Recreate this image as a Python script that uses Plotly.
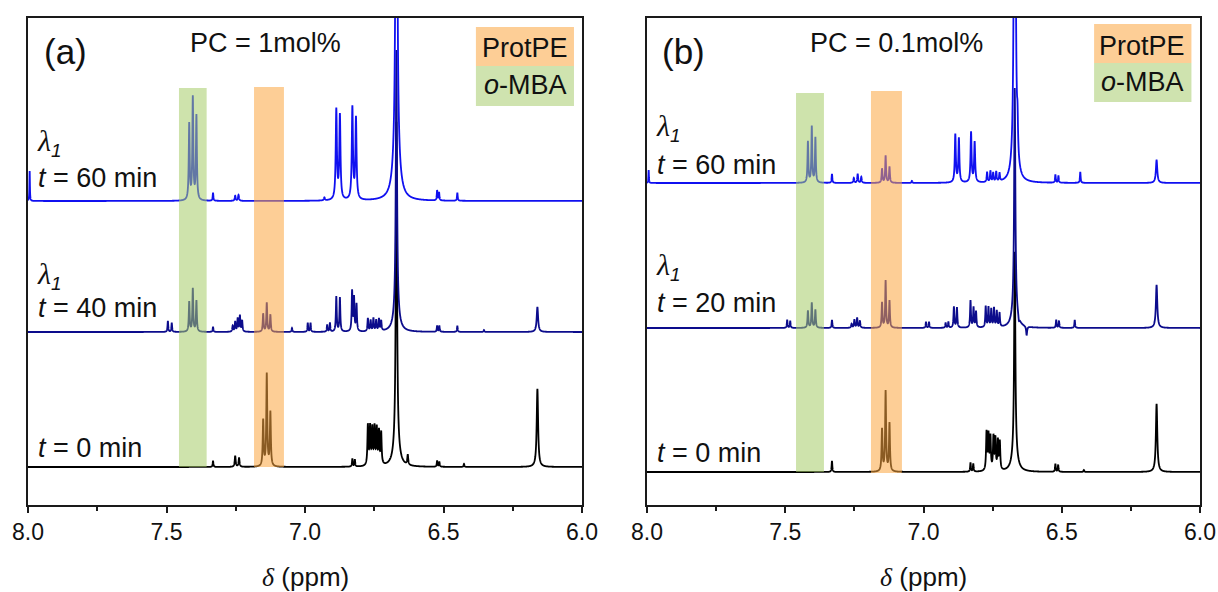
import numpy as np
import plotly.graph_objects as go

# ---------------------------------------------------------------
# 1H NMR peak lists (chemical shift in ppm, intensity, half width)
# ---------------------------------------------------------------
# Panel (a): PC = 1 mol%
A0_PPM = [7.332, 7.252, 7.238, 7.151, 7.138, 7.125, 6.829, 6.820,
          6.773, 6.765, 6.757, 6.749, 6.741, 6.733, 6.725,
          6.670, 6.670, 6.629, 6.523, 6.515, 6.426, 6.161]
A0_INT = [6, 11, 9, 46, 92, 54, 8, 7,
          40, 38, 36, 37, 36, 33, 32,
          320, 25, 10, 6, 5, 3, 78]
A0_HW = [0.0015, 0.002, 0.002, 0.002, 0.002, 0.002, 0.0015, 0.0015,
         0.002, 0.002, 0.002, 0.002, 0.002, 0.002, 0.002,
         0.0025, 0.010, 0.002, 0.0015, 0.0015, 0.0015, 0.003]

A40_PPM = [7.495, 7.481, 7.418, 7.405, 7.392, 7.332,
           7.261, 7.252, 7.243, 7.235, 7.227,
           7.151, 7.138, 7.125, 7.047, 6.990, 6.980, 6.920, 6.910,
           6.887, 6.874, 6.830, 6.823, 6.814,
           6.773, 6.763, 6.753, 6.743, 6.733, 6.725,
           6.670, 6.670, 6.523, 6.515, 6.450, 6.354, 6.161]
A40_INT = [11, 9, 30, 43, 31, 5,
           6, 10, 13, 16, 11,
           18, 29, 17, 4, 9, 9, 7, 9,
           35, 34, 40, 33, 27,
           13, 11, 13, 11, 12, 10,
           260, 22, 6, 6, 6, 2, 25]
A40_HW = [0.0015, 0.0015, 0.0018, 0.0018, 0.0018, 0.0015,
          0.0018, 0.0018, 0.0018, 0.0018, 0.0018,
          0.0018, 0.0018, 0.0018, 0.0015, 0.0015, 0.0015, 0.0015, 0.0015,
          0.0018, 0.0018, 0.0018, 0.0018, 0.0018,
          0.0018, 0.0018, 0.0018, 0.0018, 0.0018, 0.0018,
          0.0025, 0.010, 0.0015, 0.0015, 0.0015, 0.0015, 0.003]

A60_PPM = [7.994, 7.418, 7.405, 7.392, 7.332, 7.252, 7.240, 6.930,
           6.887, 6.874, 6.829, 6.816, 6.670, 6.670, 6.523, 6.516, 6.450]
A60_INT = [30, 76, 102, 84, 8, 5, 6, 3,
           90, 84, 92, 81, 700, 50, 10, 8, 8]
A60_HW = [0.001, 0.002, 0.002, 0.002, 0.0015, 0.002, 0.002, 0.002,
          0.0025, 0.0025, 0.0025, 0.0025, 0.0025, 0.012, 0.0015, 0.0015, 0.0015]

# Panel (b): PC = 0.1 mol%
B0_PPM = [7.331, 7.150, 7.137, 7.123, 6.830, 6.820,
          6.772, 6.765, 6.758, 6.747, 6.740, 6.731, 6.724,
          6.670, 6.670, 6.523, 6.513, 6.420, 6.157]
B0_INT = [11, 42, 80, 48, 9, 8,
          38, 35, 33, 33, 31, 29, 28,
          200, 20, 8, 7, 2, 68]
B0_HW = [0.0015, 0.002, 0.002, 0.002, 0.0015, 0.0015,
         0.002, 0.002, 0.002, 0.002, 0.002, 0.002, 0.002,
         0.0025, 0.010, 0.0015, 0.0015, 0.0015, 0.003]

B20_PPM = [7.493, 7.482, 7.418, 7.404, 7.391, 7.331,
           7.260, 7.250, 7.240, 7.230,
           7.150, 7.137, 7.123, 6.991, 6.980, 6.920, 6.910,
           6.890, 6.879, 6.830, 6.819, 6.810,
           6.775, 6.765, 6.755, 6.745, 6.735, 6.725,
           6.670, 6.670, 6.655, 6.627, 6.520, 6.510, 6.453, 6.157]
B20_INT = [8, 7, 17, 25, 18, 8,
           4, 8, 10, 7,
           25, 47, 27, 6, 6, 5, 6,
           21, 20, 27, 20, 16,
           21, 20, 18, 19, 16, 14,
           220, 20, -5, -9, 8, 7, 8, 43]
B20_HW = [0.0015, 0.0015, 0.0018, 0.0018, 0.0018, 0.0015,
          0.0018, 0.0018, 0.0018, 0.0018,
          0.0018, 0.0018, 0.0018, 0.0015, 0.0015, 0.0015, 0.0015,
          0.0018, 0.0018, 0.0018, 0.0018, 0.0018,
          0.0018, 0.0018, 0.0018, 0.0018, 0.0018, 0.0018,
          0.0025, 0.010, 0.002, 0.002, 0.0015, 0.0015, 0.0015, 0.003]

B60_PPM = [7.994, 7.418, 7.404, 7.391, 7.331, 7.252, 7.238, 7.225,
           7.150, 7.137, 7.123, 7.042, 6.885, 6.872, 6.828, 6.815,
           6.770, 6.758, 6.748, 6.737, 6.725,
           6.670, 6.670, 6.660, 6.523, 6.512, 6.433, 6.157]
B60_INT = [13, 41, 56, 45, 9, 5, 9, 6,
           14, 27, 16, 2, 48, 44, 50, 40,
           10, 11, 9, 10, 8,
           700, 20, 30, 8, 7, 11, 23]
B60_HW = [0.001, 0.0018, 0.0018, 0.0018, 0.0015, 0.0018, 0.0018, 0.0018,
          0.0018, 0.0018, 0.0018, 0.0015, 0.0022, 0.0022, 0.0022, 0.0022,
          0.0018, 0.0018, 0.0018, 0.0018, 0.0018,
          0.0025, 0.010, 0.002, 0.0015, 0.0015, 0.0015, 0.003]

# vertical stacking offsets of each spectrum (same units as intensity)
A_OFFSETS = {"t0": 38, "t40": 173, "t60": 304}
B_OFFSETS = {"t0": 33, "t20": 177, "t60": 322}

# highlighted chemical shift windows (ppm)
A_MBA_BAND = (7.455, 7.355)
A_PROTPE_BAND = (7.184, 7.076)
B_MBA_BAND = (7.461, 7.360)
B_PROTPE_BAND = (7.190, 7.078)

# ---------------------------------------------------------------
PPM_AXIS = np.linspace(8.0, 6.0, 8001)


def lorentz_sum(pos, inten, hw, offset):
    y = np.full_like(PPM_AXIS, float(offset))
    for p, a, g in zip(pos, inten, hw):
        y += a * g * g / ((PPM_AXIS - p) ** 2 + g * g)
    return y


BLACK = "#000000"
NAVY = "#0c0c8c"
BLUE = "#1010f0"
LW = 1.8

SANS = "Liberation Sans, Arial, sans-serif"
SERIF = "Liberation Serif, Times New Roman, serif"

fig = go.Figure()

panel_a = [(A0_PPM, A0_INT, A0_HW, A_OFFSETS["t0"], BLACK),
           (A40_PPM, A40_INT, A40_HW, A_OFFSETS["t40"], NAVY),
           (A60_PPM, A60_INT, A60_HW, A_OFFSETS["t60"], BLUE)]
panel_b = [(B0_PPM, B0_INT, B0_HW, B_OFFSETS["t0"], BLACK),
           (B20_PPM, B20_INT, B20_HW, B_OFFSETS["t20"], NAVY),
           (B60_PPM, B60_INT, B60_HW, B_OFFSETS["t60"], BLUE)]

for spectra, xa, ya in [(panel_a, "x", "y"), (panel_b, "x2", "y2")]:
    for pos, inten, hw, off, col in spectra:
        fig.add_trace(go.Scatter(
            x=PPM_AXIS, y=lorentz_sum(pos, inten, hw, off),
            mode="lines", line=dict(color=col, width=LW, simplify=False),
            xaxis=xa, yaxis=ya, showlegend=False, hoverinfo="skip"))

W, H = 1218, 592
Y_TOP = 487  # plot height in y units

axis_common = dict(showline=True, mirror=True, linecolor="#1a1a1a", linewidth=1.7,
                   showgrid=False, zeroline=False, automargin=False)
xaxis_style = dict(axis_common, range=[8.0, 6.0], ticks="outside", ticklen=6,
                   tickwidth=1.5, tickcolor="#1a1a1a", dtick=0.5, tick0=6.0,
                   tickformat=".1f", tickfont=dict(family=SANS, size=23, color="#111"),
                   minor=dict(ticks="outside", ticklen=4, tickwidth=1.5,
                              tickcolor="#1a1a1a", dtick=0.25, tick0=6.0))
yaxis_style = dict(axis_common, range=[0, Y_TOP], ticks="", showticklabels=False)

fig.update_layout(
    template="none",
    width=W, height=H, margin=dict(l=0, r=0, t=0, b=0, pad=0), autosize=False,
    paper_bgcolor="white", plot_bgcolor="white",
    xaxis=dict(xaxis_style, domain=[28 / W, 582 / W], anchor="y"),
    yaxis=dict(yaxis_style, domain=[87 / H, 574 / H], anchor="x"),
    xaxis2=dict(xaxis_style, domain=[647 / W, 1200 / W], anchor="y2"),
    yaxis2=dict(yaxis_style, domain=[87 / H, 574 / H], anchor="x2"),
)

# highlight bands (translucent, drawn over the traces)
shapes = []
bands = {
    ("x", "y"): [(A_MBA_BAND, 38, 417, "rgb(166,204,104)"),
                 (A_PROTPE_BAND, 38, 418, "rgb(251,166,64)")],
    ("x2", "y2"): [(B_MBA_BAND, 33, 412, "rgb(166,204,104)"),
                   (B_PROTPE_BAND, 32, 414, "rgb(251,166,64)")],
}
for (xa, ya), items in bands.items():
    for (x0, x1), y0, y1, col in items:
        shapes.append(dict(type="rect", xref=xa, yref=ya, x0=x0, x1=x1, y0=y0, y1=y1,
                           fillcolor=col, opacity=0.55, line=dict(width=0), layer="above"))

# legend boxes
legend_boxes = {
    ("x", "y"): [(6.383, 6.029, 439, 478, "#fdce96"), (6.383, 6.029, 399, 439, "#cfe3af")],
    ("x2", "y2"): [(6.383, 6.031, 442, 481, "#fdce96"), (6.383, 6.031, 403, 442, "#cfe3af")],
}
for (xa, ya), items in legend_boxes.items():
    for x0, x1, y0, y1, col in items:
        shapes.append(dict(type="rect", xref=xa, yref=ya, x0=x0, x1=x1, y0=y0, y1=y1,
                           fillcolor=col, line=dict(width=0), layer="above"))
fig.update_layout(shapes=shapes)

LAMBDA = (f'<span style="font-family:{SERIF};font-size:30px"><i>λ</i></span>'
          f'<sub><i>1</i></sub>')


def note(text, x, y, xa, ya, size=27, xanchor="left", family=SANS):
    fig.add_annotation(text=text, x=x, y=y, xref=xa, yref=ya, showarrow=False,
                       xanchor=xanchor, yanchor="middle",
                       font=dict(family=family, size=size, color="#111"))


# panel (a)
note("(a)", 7.950, 453, "x", "y", size=35)
note("PC = 1mol%", 7.141, 462, "x", "y", xanchor="center")
note("ProtPE", 6.204, 457, "x", "y", xanchor="center")
note("<i>o</i>-MBA", 6.204, 420, "x", "y", xanchor="center")
note(LAMBDA, 7.973, 362, "x", "y")
note("<i>t</i> = 60 min", 7.971, 327, "x", "y")
note(LAMBDA, 7.973, 230, "x", "y")
note("<i>t</i> = 40 min", 7.971, 197, "x", "y")
note("<i>t</i> = 0 min", 7.971, 57, "x", "y")

# panel (b)
note("(b)", 7.953, 453, "x2", "y2", size=35)
note("PC = 0.1mol%", 7.098, 462, "x2", "y2", xanchor="center")
note("ProtPE", 6.209, 459, "x2", "y2", xanchor="center")
note("<i>o</i>-MBA", 6.209, 423, "x2", "y2", xanchor="center")
note(LAMBDA, 7.973, 377, "x2", "y2")
note("<i>t</i> = 60 min", 7.971, 340, "x2", "y2")
note(LAMBDA, 7.973, 239, "x2", "y2")
note("<i>t</i> = 20 min", 7.971, 202, "x2", "y2")
note("<i>t</i> = 0 min", 7.971, 52, "x2", "y2")

# axis titles
for xc in [(28 + 582) / 2 / W, (647 + 1200) / 2 / W]:
    fig.add_annotation(text=f'<span style="font-family:{SERIF}"><i>δ</i></span> (ppm)',
                       x=xc, y=(H - 577) / H, xref="paper", yref="paper",
                       showarrow=False, xanchor="center", yanchor="middle",
                       font=dict(family=SANS, size=26, color="#111"))

fig.write_html("out.html")
